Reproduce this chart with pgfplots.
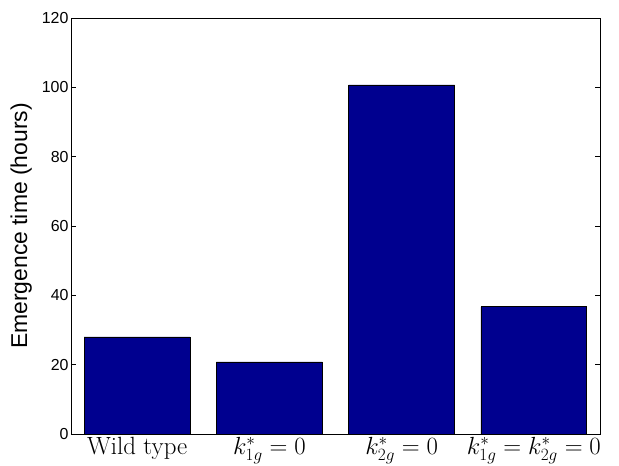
\documentclass[border=0pt]{standalone}
\usepackage{pgfplots}
\pgfplotsset{compat=1.18}
\usepackage{fontspec}
\newfontfamily\helv{Liberation Sans}
\definecolor{matnavy}{RGB}{0,0,143}
\begin{document}
\begin{tikzpicture}
\begin{axis}[
  scale only axis,
  width=529bp, height=416bp,
  xmin=0.5, xmax=4.5, ymin=0, ymax=120,
  xtick={1,2,3,4},
  xticklabels={Wild type, {$k^*_{1g}=0$}, {$k^*_{2g}=0$}, {$k^*_{1g}=k^*_{2g}=0$}},
  xtick style={draw=none},
  xticklabel style={font=\fontsize{25}{28}\selectfont, anchor=north, yshift=-3bp, inner sep=0pt},
  ytick={0,20,...,120},
  yticklabel style={font=\helv\fontsize{16}{18}\selectfont, xshift=1bp},
  /pgf/number format/assume math mode=true,
  ytick pos=both,
  tick align=inside,
  major tick length=5bp,
  axis line style={line width=0.8bp},
  every tick/.style={black, line width=0.6bp},
  ylabel={Emergence time (hours)},
  ylabel style={font=\helv\fontsize{23}{26}\selectfont, at={(axis description cs:-0.094,0.5)}, anchor=center},
  axis on top=false,
]
\addplot[ybar, bar width=105.8bp, fill=matnavy, draw=black, line width=0.6bp, bar shift=0pt]
  coordinates {(1,28.0) (2,20.8) (3,100.7) (4,36.7)};
\end{axis}
\pgfresetboundingbox
\path ([shift={(-71bp,-32bp)}]current axis.south west) rectangle ([shift={(19bp,18bp)}]current axis.north east);
\end{tikzpicture}
\end{document}
